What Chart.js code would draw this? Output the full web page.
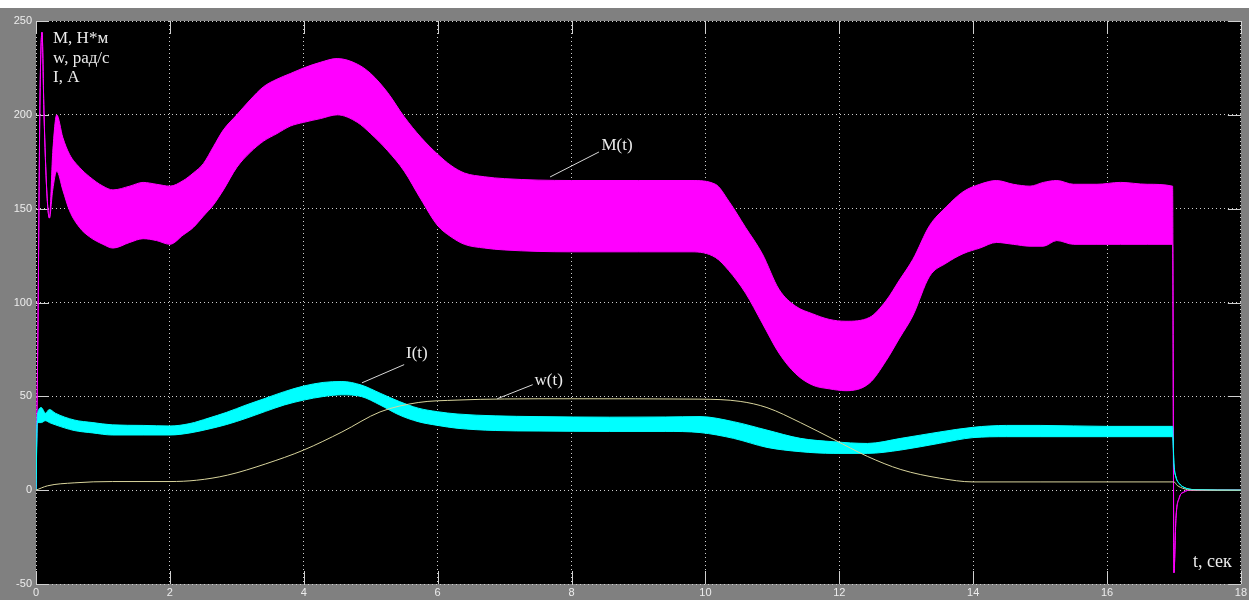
<!DOCTYPE html>
<html>
<head>
<meta charset="utf-8">
<title>M(t), w(t), I(t)</title>
<script src="https://cdn.jsdelivr.net/npm/chart.js@4.4.1/dist/chart.umd.min.js"></script>
<style>
  html, body { margin:0; padding:0; background:#fff; }
  #wrap { position:absolute; left:0; top:8px; width:1249px; height:592px; background:#808080; }
  canvas { display:block; }
</style>
</head>
<body>
<div id="wrap"><canvas id="scope" width="1249" height="592"></canvas></div>
<script>
// axis ticks
const xTicks = [0, 2, 4, 6, 8, 10, 12, 14, 16, 18];
const yTicks = [-50, 0, 50, 100, 150, 200, 250];

// M(t), torque band (upper / lower envelope of the ripple)
const mTime = [0, 0.03, 0.06, 0.09, 0.12, 0.16, 0.2, 0.25, 0.31, 0.4,
  0.5, 0.65, 0.8, 1.0, 1.15, 1.4, 1.6, 1.8, 2.0, 2.2,
  2.35, 2.5, 2.65, 2.8, 3.0, 3.2, 3.4, 3.6, 3.8, 4.0,
  4.25, 4.5, 4.8, 5.0, 5.25, 5.5, 5.75, 6.0, 6.2, 6.4,
  6.7, 7.0, 8.0, 9.0, 9.8, 10.15, 10.35, 10.6, 10.85, 11.1,
  11.35, 11.6, 11.85, 12.1, 12.45, 12.7, 12.9, 13.1, 13.35, 13.6,
  13.85, 14.1, 14.35, 14.6, 14.85, 15.05, 15.25, 15.5, 15.85, 16.2,
  16.6, 16.98, 17.0, 17.03, 17.08, 17.15, 17.25, 18];
const mUpper = [0, 90, 210, 244, 200, 160, 145, 180, 200, 188,
  179, 172, 167, 162, 160, 162, 164, 163, 162, 165,
  169, 174, 183, 192, 200, 208, 215, 219, 222, 225,
  228, 230, 227, 222, 212, 199, 188, 179, 173, 169,
  167, 166, 165, 165, 165, 163, 154, 140, 126, 107,
  98, 94, 91, 90, 92, 101, 112, 123, 141, 151,
  159, 163, 165, 163, 162, 164, 165, 163, 163, 164,
  163, 162, -44, -15, -4, -1, 0, 0];
const mLower = [0, 90, 210, 244, 200, 160, 145, 160, 170, 160,
  149, 140, 135, 131, 129, 132, 134, 133, 131, 136,
  140, 146, 152, 160, 172, 180, 186, 190, 194, 196,
  198, 200, 196, 190, 181, 170, 155, 141, 135, 131,
  129, 128, 127, 127, 127, 124, 117, 105, 89, 73,
  62, 56, 54, 53, 57, 69, 81, 93, 114, 121,
  126, 129, 132, 131, 130, 130, 133, 131, 131, 131,
  131, 131, -44, -15, -4, -1, 0, 0];

// I(t), current band
const iTime = [0, 0.02, 0.08, 0.14, 0.2, 0.29, 0.57, 0.85, 1.14, 1.6,
  2.0, 2.3, 2.57, 2.85, 3.14, 3.43, 3.71, 4.0, 4.29, 4.57,
  4.86, 5.14, 5.43, 5.71, 6.0, 6.29, 6.86, 7.5, 8.57, 9.4,
  9.92, 10.42, 10.92, 11.42, 11.92, 12.42, 12.92, 13.5, 14.0, 14.5,
  15.0, 16.0, 16.98, 17.0, 17.03, 17.08, 17.15, 17.3, 18];
const iUpper = [0, 40, 44, 41, 43, 41, 37.4, 36, 34.8, 34.5,
  34.2, 35.5, 38.3, 41.5, 45.4, 49, 52.5, 55.5, 57.4, 57.9,
  56, 51.7, 47.2, 43.7, 41.8, 40.6, 39.6, 39.2, 38.9, 39,
  39.2, 36.5, 32, 27.6, 25.8, 24.9, 27.6, 31, 33.5, 34.5,
  34.5, 34, 34, 14, 7, 3.5, 1.5, 0.3, 0];
const iLower = [0, 36, 36, 37, 36, 34.8, 31.8, 30.5, 29.4, 29.4,
  29.4, 30.5, 32.5, 35, 38.3, 42, 45.4, 48, 49.9, 50.8,
  49.9, 45.4, 40, 36.5, 34.5, 33, 31.8, 31.5, 31.3, 31.3,
  30.7, 27.6, 22.8, 20.5, 19.6, 19.6, 21.4, 25, 28, 28.5,
  28.5, 28.5, 28.5, 14, 7, 3.5, 1.5, 0.3, 0];

// w(t), speed
const wTime = [0, 0.17, 0.57, 1.14, 2.0, 2.4, 2.86, 3.43, 4.0, 4.57,
  5.14, 5.71, 6.29, 7.0, 8.0, 9.92, 10.52, 10.92, 11.42, 11.92,
  12.42, 12.92, 13.5, 14.0, 15.0, 16.0, 17.0, 17.05, 17.15, 17.25, 18];
const wVal = [0, 2.3, 3.9, 4.6, 4.6, 5.3, 8, 14, 21.4, 31,
  41.7, 46.7, 48, 48.6, 48.7, 48.5, 47.3, 44, 36, 27,
  18, 11, 6.4, 4.4, 4.4, 4.4, 4.4, 2.5, 0.8, 0, 0];

// curve labels with leader lines, in data units
const notes = [
  { text: 'M(t)', at: [8.68, 183.4], from: [7.68, 166.9], to: [8.41, 180.2] },
  { text: 'I(t)', at: [5.69, 72.7], from: [4.87, 57.2], to: [5.50, 66.9] },
  { text: 'w(t)', at: [7.66, 58.3], from: [6.89, 48.7], to: [7.42, 56.2] }
];
const unitLines = ['M, Н*м', 'w, рад/с', 'I, A'];

const toPts = (ts, vs) => ts.map((t, i) => ({ x: t, y: vs[i] }));

const MAG = '#ff00ff', CYAN = '#00ffff', WCOL = '#d8d49c';
const TXT = '#ececec';
const SERIF = '"Liberation Serif", "DejaVu Serif", serif';

const scopeBg = {
  id: 'scopeBg',
  beforeDraw(chart){
    const { ctx, chartArea: a } = chart;
    ctx.save();
    ctx.fillStyle = '#808080';
    ctx.fillRect(0, 0, chart.width, chart.height);
    ctx.fillStyle = '#000';
    ctx.fillRect(a.left, a.top, a.right - a.left, a.bottom - a.top);
    ctx.restore();
  }
};

// short solid tick marks on the inside of all four edges
const scopeTicks = {
  id: 'scopeTicks',
  beforeDatasetsDraw(chart){
    const { ctx, chartArea: a, scales: { x, y } } = chart;
    const len = 13;
    ctx.save();
    ctx.strokeStyle = '#d0d0d0';
    ctx.lineWidth = 1;
    ctx.beginPath();
    xTicks.forEach(v => {
      const px = Math.round(x.getPixelForValue(v)) + 0.5;
      ctx.moveTo(px, a.bottom); ctx.lineTo(px, a.bottom - len);
      ctx.moveTo(px, a.top); ctx.lineTo(px, a.top + len);
    });
    yTicks.forEach(v => {
      const py = Math.round(y.getPixelForValue(v)) + 0.5;
      ctx.moveTo(a.left, py); ctx.lineTo(a.left + len, py);
      ctx.moveTo(a.right, py); ctx.lineTo(a.right - len, py);
    });
    ctx.stroke();
    ctx.restore();
  }
};

const scopeText = {
  id: 'scopeText',
  afterDatasetsDraw(chart){
    const { ctx, chartArea: a, scales: { x, y } } = chart;
    ctx.save();
    ctx.strokeStyle = '#d8d8d8';
    ctx.fillStyle = TXT;
    ctx.lineWidth = 1;
    ctx.font = '17px ' + SERIF;
    ctx.textAlign = 'center';
    ctx.textBaseline = 'middle';
    notes.forEach(n => {
      ctx.beginPath();
      ctx.moveTo(x.getPixelForValue(n.from[0]), y.getPixelForValue(n.from[1]));
      ctx.lineTo(x.getPixelForValue(n.to[0]), y.getPixelForValue(n.to[1]));
      ctx.stroke();
      ctx.fillText(n.text, x.getPixelForValue(n.at[0]), y.getPixelForValue(n.at[1]));
    });
    ctx.textAlign = 'left';
    ctx.textBaseline = 'alphabetic';
    unitLines.forEach((s, i) => ctx.fillText(s, a.left + 17, a.top + 22 + i * 19.5));
    ctx.font = '18px ' + SERIF;
    ctx.fillText('t, сек', a.right - 48, a.bottom - 17);
    ctx.restore();
  }
};

const line = (data, color, extra) => Object.assign({
  data, borderColor: color, backgroundColor: color, borderWidth: 1,
  pointRadius: 0, cubicInterpolationMode: 'monotone', fill: false
}, extra || {});

new Chart(document.getElementById('scope'), {
  type: 'line',
  data: {
    datasets: [
      line(toPts(wTime, wVal), WCOL),
      line(toPts(iTime, iUpper), CYAN, { fill: '+1' }),
      line(toPts(iTime, iLower), CYAN),
      line(toPts(mTime, mUpper), MAG, { fill: '+1' }),
      line(toPts(mTime, mLower), MAG)
    ]
  },
  options: {
    responsive: false,
    devicePixelRatio: 1,
    animation: false,
    layout: { padding: { top: 13, right: 8, left: 0, bottom: 0 } },
    plugins: { legend: { display: false }, tooltip: { enabled: false } },
    scales: {
      x: {
        type: 'linear', min: 0, max: 18,
        afterBuildTicks: s => { s.ticks = xTicks.map(v => ({ value: v })); },
        afterFit: s => { s.height = 16; },
        border: { display: false, dash: [1, 3] },
        grid: { color: '#cfcfcf', lineWidth: 1, drawTicks: false },
        ticks: { color: TXT, padding: 2, maxRotation: 0, autoSkip: false,
          font: { family: '"Liberation Sans", Arial, sans-serif', size: 11 } }
      },
      y: {
        type: 'linear', min: -50, max: 250,
        afterBuildTicks: s => { s.ticks = yTicks.map(v => ({ value: v })); },
        afterFit: s => { s.width = 36; },
        border: { display: false, dash: [1, 3] },
        grid: { color: '#cfcfcf', lineWidth: 1, drawTicks: false },
        ticks: { color: TXT, padding: 4,
          font: { family: '"Liberation Sans", Arial, sans-serif', size: 11 } }
      }
    }
  },
  plugins: [scopeBg, scopeTicks, scopeText]
});
</script>
</body>
</html>
